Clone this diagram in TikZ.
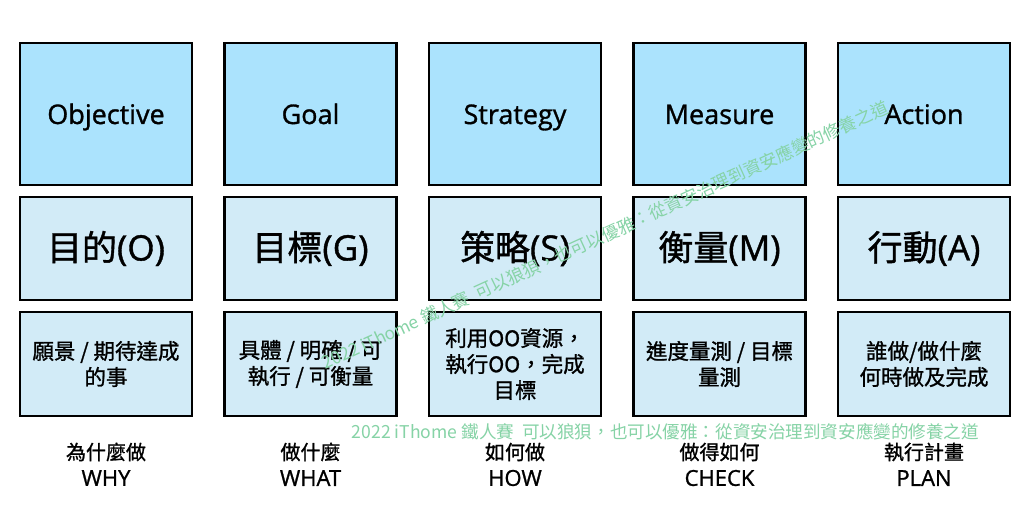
\documentclass[tikz,border=0pt]{standalone}
\usepackage{fontspec}
\setmainfont{Open Sans}[FakeBold=1.1]
\newfontfamily\cjk{Noto Sans CJK TC}[Language=Chinese Traditional, FakeBold=1.1]
\newfontfamily\cjkwm{Noto Sans CJK TC}[Language=Chinese Traditional]
\definecolor{topblue}{RGB}{171,227,253}
\definecolor{lowblue}{RGB}{210,235,247}
\definecolor{wmgreen}{RGB}{134,211,166}
\begin{document}
\begin{tikzpicture}[x=1pt,y=1pt,
  box/.style={draw=black, line width=2.6pt, minimum width=172pt, inner sep=0pt, align=center},
  topbox/.style={box, fill=topblue, minimum height=142pt, text height=20pt, text depth=0pt, font=\fontsize{27}{32}\selectfont},
  midbox/.style={box, fill=lowblue, minimum height=103pt, font=\fontsize{35}{40}\selectfont},
  lowbox/.style={box, fill=lowblue, minimum height=104pt, font=\fontsize{21.5}{26}\selectfont\cjk},
  labcjk/.style={inner sep=0pt, font=\fontsize{20}{24}\selectfont\cjk},
  labeng/.style={inner sep=0pt, font=\fontsize{22}{26}\selectfont},
  wm/.style={text=wmgreen, inner sep=0pt, font=\fontsize{16}{18}\selectfont\cjkwm}]
\useasboundingbox (0,0) rectangle (1024,515);
\fill[white] (0,0) rectangle (1024,515);

% top row
\node[topbox] (t1) at (106,401) {Objective};
\node[topbox] (t2) at (310.5,401) {Goal};
\node[topbox] (t3) at (515,401) {Strategy};
\node[topbox] (t4) at (719.5,401) {Measure};
\node[topbox] (t5) at (924,401) {Action};

% middle row
\node[midbox] (m1) at (106,266.5) {{\cjk 目的}(O)};
\node[midbox] (m2) at (310.5,266.5) {{\cjk 目標}(G)};
\node[midbox] (m3) at (515,266.5) {{\cjk 策略}(S)};
\node[midbox] (m4) at (719.5,266.5) {{\cjk 衡量}(M)};
\node[midbox] (m5) at (924,266.5) {{\cjk 行動}(A)};

% lower row
\node[lowbox] (b1) at (106,151) {願景 / 期待達成\\的事};
\node[lowbox] (b2) at (310.5,151) {具體 / 明確 / 可\\執行 / 可衡量};
\node[lowbox] (b3) at (515,151) {利用OO資源，\\執行OO，完成\\目標};
\node[lowbox] (b4) at (719.5,151) {進度量測 / 目標\\量測};
\node[lowbox] (b5) at (924,151) {誰做/做什麼\\何時做及完成};

% bottom labels
\node[labcjk] (c1) at (106,63) {為什麼做};
\node[labcjk] (c2) at (310.5,63) {做什麼};
\node[labcjk] (c3) at (515,63) {如何做};
\node[labcjk] (c4) at (719.5,63) {做得如何};
\node[labcjk] (c5) at (924,63) {執行計畫};
\node[labeng] (e1) at (106,37) {WHY};
\node[labeng] (e2) at (310.5,37) {WHAT};
\node[labeng] (e3) at (515,37) {HOW};
\node[labeng] (e4) at (719.5,37) {CHECK};
\node[labeng] (e5) at (924,37) {PLAN};

% watermarks
\node[wm] (w1) at (665.5,83) {\resizebox{627pt}{!}{2022 iThome 鐵人賽 \ 可以狼狽，也可以優雅：從資安治理到資安應變的修養之道}};
\node[wm, rotate=24.5] (w2) at (605,280) {\resizebox{620pt}{!}{2022 iThome 鐵人賽 \ 可以狼狽，也可以優雅：從資安治理到資安應變的修養之道}};
\end{tikzpicture}
\end{document}
